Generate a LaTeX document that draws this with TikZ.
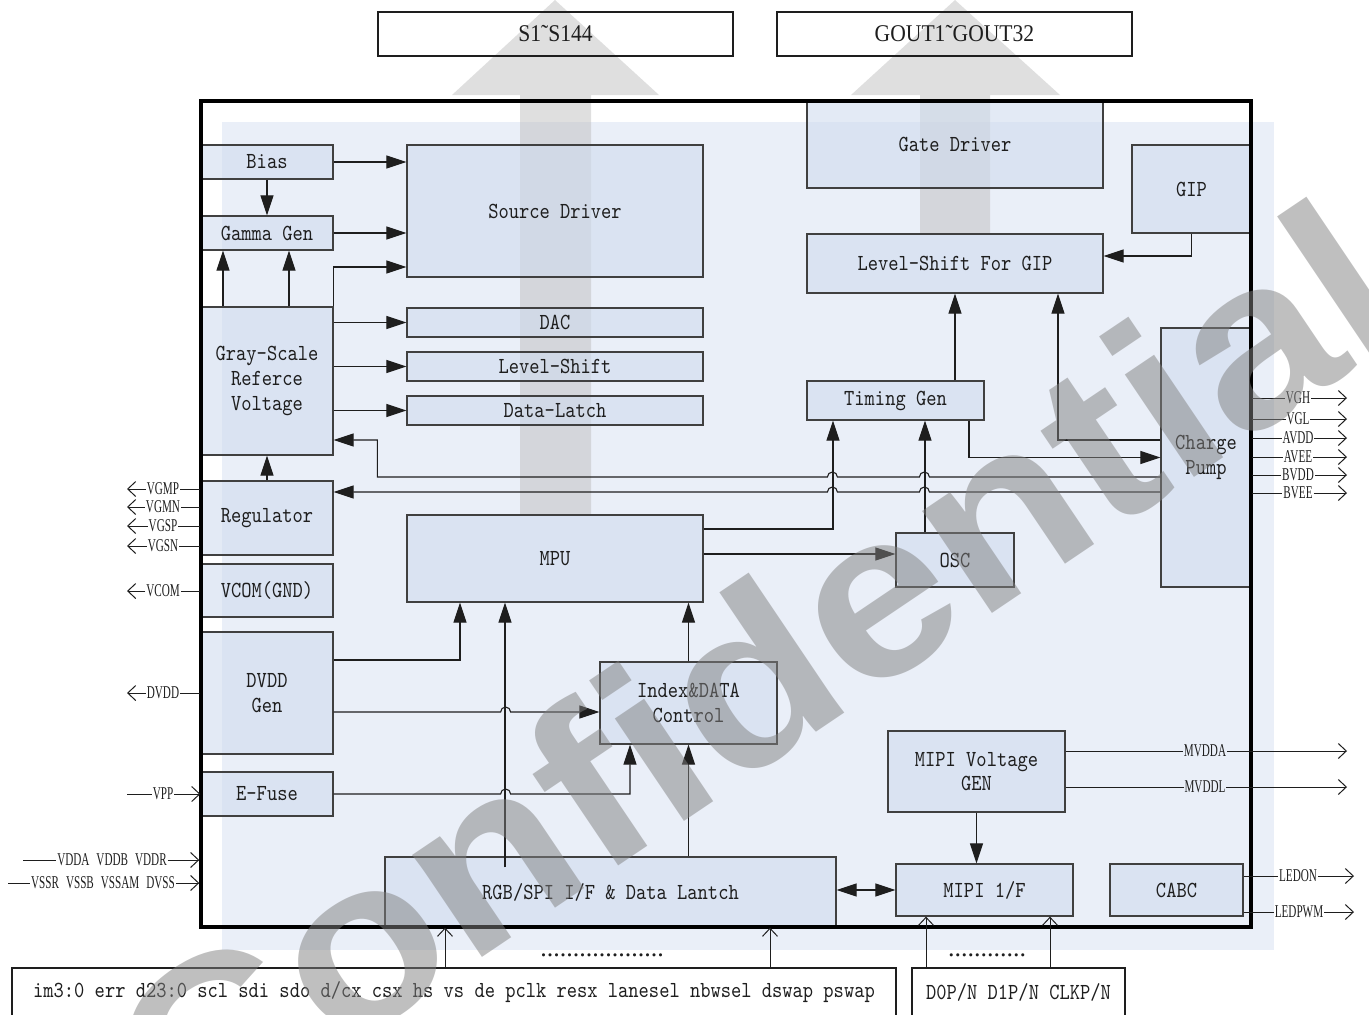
\documentclass[tikz,border=0pt]{standalone}
\usepackage{fontspec}
\setmainfont{lmmono10-regular.otf}[FakeStretch=0.85]
\newfontfamily\pinfont{Liberation Serif}[FakeStretch=0.62,WordSpace=2.5]
\newfontfamily\outfont{Liberation Serif}[FakeStretch=0.9]
\newfontfamily\dotfont{Liberation Serif}
\newfontfamily\markfont{Liberation Sans Bold}[FakeStretch=1.1]
\usetikzlibrary{arrows.meta}

\definecolor{chipbg}{RGB}{234,239,248}
\definecolor{blkfill}{RGB}{208,220,238}
\definecolor{ink}{RGB}{30,30,30}

\begin{document}
\begin{tikzpicture}[x=0.5pt, y=-0.5pt,
  tri/.tip={Triangle[length=10pt,width=6.5pt]},
  barb/.tip={Straight Barb[length=4pt,width=7.5pt]},
  blk/.style={draw=ink!85, line width=0.6pt, fill=blkfill, fill opacity=0.6, text opacity=1, text=ink, align=center, inner sep=0pt, font=\fontsize{11.5}{12.4}\selectfont},
  arr/.style={draw=ink, line width=0.55pt, -tri},
  pin/.style={draw=ink, line width=0.5pt, -barb},
  pinlbl/.style={inner sep=0.3pt, text=ink, font=\pinfont\fontsize{9}{10}\selectfont},
  outbox/.style={draw=ink, line width=0.8pt, inner sep=0pt, minimum width=177.5pt, minimum height=22pt, text=ink, font=\outfont\fontsize{12}{14}\selectfont},
  pinbox/.style={draw=ink, line width=0.8pt, inner sep=0pt, minimum height=24pt, text=ink, font=\fontsize{11.5}{12}\selectfont},
  dots/.style={inner sep=0pt, text=ink, font=\dotfont\fontsize{13}{13}\selectfont},
  band/.style={fill=black!25, fill opacity=0.5},
  wmark/.style={rotate=34, inner sep=0pt, text=black!50, text opacity=0.5, font=\markfont\fontsize{117}{117}\selectfont}]

\useasboundingbox (0,0) rectangle (1369,1014);
\clip (0,0) rectangle (1369,1014);

% chip backdrop and the two big output arrows
\fill[chipbg] (222,122) rectangle (1274,950);
\fill[band] (520,515) -- (520,95) -- (452,95) -- (555,0) -- (659,95) -- (591,95) -- (591,515) -- cycle;
\fill[band] (920,234) -- (920,95) -- (851,95) -- (955,0) -- (1060,95) -- (990,95) -- (990,234) -- cycle;

\node[outbox] (sout) at (555.5,34) {S1˜S144};
\node[outbox] (gout) at (954.5,34) {GOUT1˜GOUT32};

% left column
\node[blk, minimum width=66pt, minimum height=17pt] (bias) at (267,162) {Bias};
\node[blk, minimum width=66pt, minimum height=17pt] (gamma) at (267,233) {Gamma Gen};
\node[blk, minimum width=66pt, minimum height=74pt] (gray) at (267,381) {Gray-Scale\\Referce\\Voltage};
\node[blk, minimum width=66pt, minimum height=37pt] (reg) at (267,518) {Regulator};
\node[blk, minimum width=66pt, minimum height=26.5pt] (vcom) at (267,590.5) {VCOM(GND)};
\node[blk, minimum width=66pt, minimum height=61pt] (dvdd) at (267,693) {DVDD\\Gen};
\node[blk, minimum width=66pt, minimum height=22pt] (efuse) at (267,794) {E-Fuse};

% source side
\node[blk, minimum width=148pt, minimum height=66pt] (src) at (555,211) {Source Driver};
\node[blk, minimum width=148pt, minimum height=14.5pt] (dac) at (555,322.5) {DAC};
\node[blk, minimum width=148pt, minimum height=14.5pt] (ls) at (555,366.5) {Level-Shift};
\node[blk, minimum width=148pt, minimum height=14.5pt] (latch) at (555,410.5) {Data-Latch};
\node[blk, minimum width=148pt, minimum height=43.5pt] (mpu) at (555,558.5) {MPU};
\node[blk, minimum width=88.5pt, minimum height=41pt] (idx) at (688.5,703) {Index\&DATA\\Control};
\node[blk, minimum width=225.5pt, minimum height=35pt] (rgb) at (610.5,892) {RGB/SPI I/F \& Data Lantch};

% gate side
\node[blk, minimum width=148pt, minimum height=43.5pt] (gate) at (955,144.5) {Gate Driver};
\node[blk, minimum width=59.5pt, minimum height=44pt] (gip) at (1191.5,189) {GIP};
\node[blk, minimum width=148pt, minimum height=29.5pt] (lsgip) at (955,263.5) {Level-Shift For GIP};
\node[blk, minimum width=88.5pt, minimum height=19.5pt] (tg) at (895.5,400.5) {Timing Gen};
\node[blk, minimum width=59pt, minimum height=27pt] (osc) at (955,560) {OSC};
\node[blk, minimum width=45pt, minimum height=129.5pt] (cp) at (1206,457.5) {Charge\\Pump};
\node[blk, minimum width=88.5pt, minimum height=40.5pt] (mipiv) at (976.5,771.5) {MIPI Voltage\\GEN};
\node[blk, minimum width=88.5pt, minimum height=26pt] (mipi) at (984.5,890) {MIPI 1/F};
\node[blk, minimum width=66.5pt, minimum height=26pt] (cabc) at (1176.5,890) {CABC};

\node[draw=black, line width=1.7pt, minimum width=525pt, minimum height=413pt, inner sep=0pt] (chip) at (726,514) {};

% host pins
\node[pinbox, minimum width=442pt] (bus) at (454,992) {im3:0 err d23:0 scl sdi sdo d/cx csx hs vs de pclk resx lanesel nbwsel dswap pswap};
\node[pinbox, minimum width=106.5pt] (dbus) at (1018.5,992) {D0P/N D1P/N CLKP/N};
\node[dots] (dotsa) at (602,955) {...................};
\node[dots] (dotsb) at (987,955) {............};

% source path
\draw[arr] (bias.east) -- (bias.east -| src.west);
\draw[arr] (bias) -- (gamma);
\draw[arr] (gamma.east) -- (gamma.east -| src.west);
\draw[arr] ([xshift=-22pt]gray.north) -- ([xshift=-22pt]gamma.south);
\draw[arr] ([xshift=11pt]gray.north) -- ([xshift=11pt]gamma.south);
\draw[arr] (gray.north east) |- ([yshift=-28pt]src.west);
\foreach \b in {dac,ls,latch}
  \draw[arr] (gray.east |- \b) -- (\b);
\draw[arr] (reg) -- (gray);

% charge pump feedback, hopping over the timing inputs
\draw[arr] ([yshift=-9.75pt]cp.west) -- ++(-231,0) arc[start angle=0,end angle=-180,radius=5]
  -- ++(-82,0) arc[start angle=0,end angle=-180,radius=5] -- ++(-450,0) |- ([yshift=-29.5pt]gray.east);
\draw[arr] ([yshift=-17.25pt]cp.west) -- ++(-231,0) arc[start angle=0,end angle=-180,radius=5]
  -- ++(-82,0) arc[start angle=0,end angle=-180,radius=5] -- ([yshift=13pt]reg.east);

% gate path
\draw[arr] ([yshift=14.75pt]mpu.east) -| ([xshift=-31.25pt]tg.south);
\draw[arr] ([yshift=2.25pt]mpu.east) -- ([yshift=2.25pt]mpu.east -| osc.west);
\draw[arr] ([xshift=-15pt]osc.north) -- ([xshift=-15pt]osc.north |- tg.south);
\draw[arr] (tg.north -| lsgip.south) -- (lsgip.south);
\draw[arr] ([xshift=36.75pt]tg.south) |- (cp.west);
\draw[arr] ([yshift=8.75pt]cp.west) -| ([xshift=51.5pt]lsgip.south);
\draw[arr] (gip.south) |- ([yshift=3.75pt]lsgip.east);

% interface path
\draw[arr] ([yshift=16.5pt]dvdd.east) -| ([xshift=-47.5pt]mpu.south);
\draw[arr] ([yshift=-9.5pt]dvdd.east) -- ++(167,0) arc[start angle=180,end angle=360,radius=5] -- ([yshift=-4.5pt]idx.west);
\draw[arr] ([xshift=-52.75pt,yshift=-5.5pt]rgb.north) -- ([xshift=-52.75pt]rgb.north |- mpu.south);
\draw[arr] (efuse.east) -- ++(167,0) arc[start angle=180,end angle=360,radius=5] -| ([xshift=-29.25pt]idx.south);
\draw[arr] (rgb.north -| idx.south) -- (idx.south);
\draw[arr] (idx.north) -- (idx.north |- mpu.south);
\draw[arr, tri-tri] (rgb.east |- mipi.west) -- (mipi.west);
\draw[arr] (mipiv.south) -- (mipiv.south |- mipi.north);

% pins
\foreach \y/\t in {398/VGH,419/VGL,438/AVDD,457/AVEE,475/BVDD,493/BVEE}{
  \node[pinlbl] (p\t) at (1298,\y) {\t};
  \draw[pin] (cp.east |- p\t) -- (p\t) -- ([xshift=24.5pt]p\t.center);
}
\foreach \y/\t in {489/VGMP,507/VGMN,526/VGSP,546/VGSN}{
  \node[pinlbl] (p\t) at (163,\y) {\t};
  \draw[pin] (reg.west |- p\t) -- (p\t) -- ([xshift=-18pt]p\t.center);
}
\node[pinlbl] (pVCOM) at (163,591) {VCOM};
\draw[pin] (vcom.west |- pVCOM) -- (pVCOM) -- ([xshift=-18pt]pVCOM.center);
\node[pinlbl] (pDVDD) at (163,693) {DVDD};
\draw[pin] (dvdd.west |- pDVDD) -- (pDVDD) -- ([xshift=-18pt]pDVDD.center);
\node[pinlbl] (pVPP) at (163,794) {VPP};
\draw[pin] ([xshift=-18pt]pVPP.center) -- (pVPP) -- (efuse.west);
\node[pinlbl] (pVDD) at (112,860) {VDDA VDDB VDDR};
\draw[pin] ([xshift=-44.5pt]pVDD.center) -- (pVDD) -- (chip.west |- pVDD);
\node[pinlbl] (pVSS) at (103,883) {VSSR VSSB VSSAM DVSS};
\draw[pin] ([xshift=-47.5pt]pVSS.center) -- (pVSS) -- (chip.west |- pVSS);

\node[pinlbl] (pMVDDA) at (1205,751) {MVDDA};
\draw[pin] (mipiv.east |- pMVDDA) -- (pMVDDA) -- ([xshift=71pt]pMVDDA.center);
\node[pinlbl] (pMVDDL) at (1205,787) {MVDDL};
\draw[pin] (mipiv.east |- pMVDDL) -- (pMVDDL) -- ([xshift=71pt]pMVDDL.center);
\node[pinlbl] (pLEDON) at (1298,876) {LEDON};
\draw[pin] (cabc.east |- pLEDON) -- (pLEDON) -- ([xshift=28pt]pLEDON.center);
\node[pinlbl] (pLEDPWM) at (1299,912) {LEDPWM};
\draw[pin] (cabc.east |- pLEDPWM) -- (pLEDPWM) -- ([xshift=27.5pt]pLEDPWM.center);

\draw[pin] ([xshift=-4.5pt]bus.north) -- ([xshift=-4.5pt]bus.north |- rgb.south);
\draw[pin] ([xshift=158pt]bus.north) -- ([xshift=158pt]bus.north |- rgb.south);
\draw[pin] ([xshift=-46.25pt]dbus.north) -- ([xshift=-46.25pt]dbus.north |- mipi.south);
\draw[pin] ([xshift=15.75pt]dbus.north) -- ([xshift=15.75pt]dbus.north |- mipi.south);

\node[wmark] (wm) at (753,674) {Confidential};
\end{tikzpicture}
\end{document}
